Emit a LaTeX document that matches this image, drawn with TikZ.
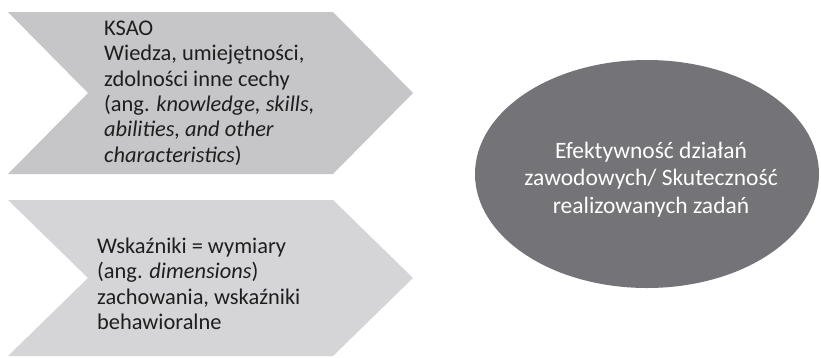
\documentclass[tikz,border=0pt]{standalone}
\usepackage{fontspec}
\setmainfont{Carlito}
\usetikzlibrary{shapes.geometric}
\definecolor{chevA}{HTML}{C6C6C8}
\definecolor{chevB}{HTML}{D5D5D7}
\definecolor{ovalC}{HTML}{747478}
\definecolor{txtC}{HTML}{1E1E1E}
\tikzset{
  blocktext/.style={anchor=north west, inner sep=0pt, align=left, text=txtC,
    font=\fontsize{22.4}{25.4}\selectfont},
  ovaltext/.style={inner sep=0pt, align=center, text=white,
    font=\fontsize{23.5}{27.5}\selectfont}
}
\begin{document}
\begin{tikzpicture}[x=1pt,y=-1pt]
\useasboundingbox (0,0) rectangle (821,357);
\fill[white] (0,0) rectangle (821,357);
% chevrons
\fill[chevA] (8,12) -- (333,12) -- (413,93) -- (333,174) -- (8,174) -- (88,93) -- cycle;
\fill[chevB] (8,200) -- (333,200) -- (413,278) -- (333,356) -- (8,356) -- (88,278) -- cycle;
% oval
\node[ellipse, fill=ovalC, minimum width=344pt, minimum height=228pt, inner sep=0pt] (goal) at (647,174) {};
\node[ovaltext] (goaltxt) at (651,179.5) {Efektywność działań\\zawodowych/ Skuteczność\\realizowanych zadań};
% texts
\node[blocktext] (ksao) at (104,20.5) {KSAO\\Wiedza, umiejętności,\\zdolności inne cechy\\(ang. \textit{knowledge, skills,}\\\textit{abilities, and other}\\\textit{characteristics})};
\node[blocktext] (wsk) at (97,237.5) {Wskaźniki = wymiary\\(ang. \textit{dimensions})\\zachowania, wskaźniki\\behawioralne};
\end{tikzpicture}
\end{document}
